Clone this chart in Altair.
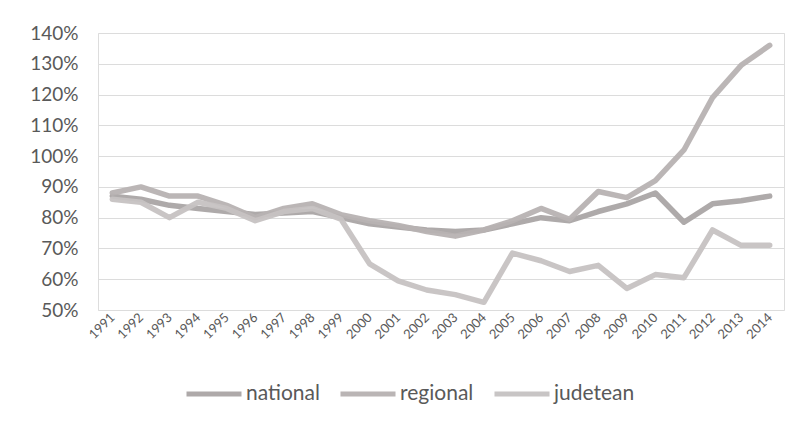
import altair as alt
import pandas as pd

years = ["1991", "1992", "1993", "1994", "1995", "1996", "1997", "1998", "1999", "2000",
         "2001", "2002", "2003", "2004", "2005", "2006", "2007", "2008", "2009", "2010",
         "2011", "2012", "2013", "2014"]

national = [87, 86, 84, 83, 82, 81, 81.5, 82, 80, 78, 77, 76, 75.5, 76, 78, 80, 79, 82, 84.5, 88,
            78.5, 84.5, 85.5, 87]
regional = [88, 90, 87, 87, 84, 80, 83, 84.5, 81, 79, 77.5, 75.5, 74, 76, 79, 83, 79.5, 88.5, 86.5, 92,
            102, 119, 129.5, 136]
judetean = [86, 85, 80, 85, 83, 79, 82, 83, 79.5, 65, 59.5, 56.5, 55, 52.5, 68.5, 66, 62.5, 64.5, 57, 61.5,
            60.5, 76, 71, 71]

series_names = ["national", "regional", "judetean"]
series_colors = ["#aaa5a5", "#b7b2b2", "#c6c2c2"]

rows = []
for name, vals in zip(series_names, [national, regional, judetean]):
    for y, v in zip(years, vals):
        rows.append({"year": y, "value": v / 100.0, "series": name})
df = pd.DataFrame(rows)

font = "Lato"
text_color = "#595959"

chart = alt.Chart(df).mark_line(strokeWidth=5.5, strokeCap="round", strokeJoin="round", opacity=0.95).encode(
    x=alt.X("year:N", sort=years, title=None,
            scale=alt.Scale(type="point", padding=0.5),
            axis=alt.Axis(labelAngle=315, labelAlign="right", labelBaseline="middle",
                          labelFontSize=13, labelColor=text_color, labelFont=font,
                          ticks=False, domain=False, grid=False, labelPadding=5)),
    y=alt.Y("value:Q", title=None,
            scale=alt.Scale(domain=[0.5, 1.4], nice=False, zero=False),
            axis=alt.Axis(format=".0%", values=[0.5, 0.6, 0.7, 0.8, 0.9, 1.0, 1.1, 1.2, 1.3, 1.4],
                          labelFontSize=19, labelColor=text_color, labelFont=font,
                          ticks=False, domain=False, grid=True, gridColor="#dcdcdc",
                          gridWidth=1, labelPadding=20)),
    color=alt.Color("series:N", sort=series_names,
                    scale=alt.Scale(domain=series_names, range=series_colors),
                    legend=alt.Legend(title=None, orient="none", direction="horizontal",
                                      legendX=86, legendY=331,
                                      symbolType="stroke", symbolSize=3025, symbolStrokeWidth=5,
                                      labelFontSize=21, labelColor=text_color, labelFont=font,
                                      labelOffset=2, columnPadding=10)),
    order=alt.Order("series:N")
).properties(
    width=686, height=277,
    autosize=alt.AutoSizeParams(type="none"),
    padding={"left": 90, "top": 25, "right": 11, "bottom": 108}
).configure_view(stroke=None).configure(background="white")

chart.save("out.html", embed_options={"renderer": "svg", "actions": False})
